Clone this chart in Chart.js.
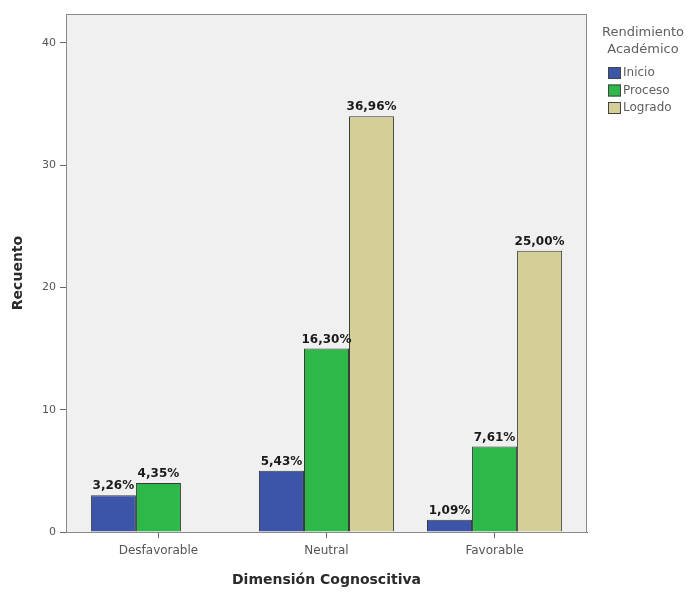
<!DOCTYPE html>
<html>
<head>
<meta charset="utf-8">
<script src="https://cdn.jsdelivr.net/npm/chart.js@4/dist/chart.umd.min.js"></script>
<style>
  html, body { margin: 0; padding: 0; background: #ffffff; }
  #wrap { position: relative; width: 692px; height: 592px; }
</style>
</head>
<body>
<div id="wrap"><canvas id="chart"></canvas></div>
<script>
// Dimensión Cognoscitiva x Rendimiento Académico (recuento)
const categories = ['Desfavorable', 'Neutral', 'Favorable'];
const seriesNames = ['Inicio', 'Proceso', 'Logrado'];
const inicio  = [3, 5, 1];
const proceso = [4, 15, 7];
const logrado = [0, 34, 23];
const yTicks  = [0, 10, 20, 30, 40];
const legendTitle = ['Rendimiento', 'Académico'];

const seriesValues = [inicio, proceso, logrado];
const seriesColors = ['#3c55a8', '#2fb84a', '#d4cf97'];
const total = seriesValues.flat().reduce((a, b) => a + b, 0);

const fontFamily = '"DejaVu Sans", "Liberation Sans", Arial, sans-serif';

// Light grey plotting panel with a thin frame
const panelPlugin = {
  id: 'panel',
  beforeDraw(chart) {
    const { ctx, chartArea: a } = chart;
    ctx.save();
    ctx.fillStyle = '#f0f0f0';
    ctx.fillRect(a.left, a.top, a.right - a.left, a.bottom - a.top);
    ctx.restore();
  },
  afterDraw(chart) {
    const { ctx, chartArea: a } = chart;
    ctx.save();
    ctx.strokeStyle = '#8a8a8a';
    ctx.lineWidth = 1;
    ctx.strokeRect(Math.round(a.left) + 0.5, Math.round(a.top) + 0.5,
                   Math.round(a.right - a.left) - 1, Math.round(a.bottom - a.top));
    ctx.restore();
  }
};

// Percentage of the total written above each bar
const percentPlugin = {
  id: 'percentLabels',
  afterDatasetsDraw(chart) {
    const { ctx } = chart;
    ctx.save();
    ctx.font = 'bold 12px ' + fontFamily;
    ctx.fillStyle = '#1a1a1a';
    ctx.textAlign = 'center';
    ctx.textBaseline = 'bottom';
    chart.data.datasets.forEach((ds, di) => {
      const meta = chart.getDatasetMeta(di);
      meta.data.forEach((bar, i) => {
        const v = ds.data[i].y;
        if (!v) return;
        const txt = (v / total * 100).toFixed(2).replace('.', ',') + '%';
        ctx.fillText(txt, bar.x, bar.y - 3);
      });
    });
    ctx.restore();
  }
};

// Legend block to the right of the panel
const sideLegendPlugin = {
  id: 'sideLegend',
  afterDraw(chart) {
    const { ctx, chartArea: a } = chart;
    const cx = a.right + 56;
    ctx.save();
    ctx.fillStyle = '#606060';
    ctx.font = '13px ' + fontFamily;
    ctx.textAlign = 'center';
    ctx.textBaseline = 'middle';
    legendTitle.forEach((line, k) => ctx.fillText(line, cx, a.top + 19 + k * 17));
    ctx.textAlign = 'left';
    ctx.font = '12px ' + fontFamily;
    chart.data.datasets.forEach((ds, k) => {
      const y = a.top + 59 + k * 17.5;
      const bx = a.right + 21;
      ctx.fillStyle = ds.backgroundColor;
      ctx.fillRect(bx, y - 6, 13, 12);
      ctx.strokeStyle = '#444';
      ctx.lineWidth = 1;
      ctx.strokeRect(bx + 0.5, y - 5.5, 12, 11);
      ctx.fillStyle = '#606060';
      ctx.fillText(ds.label, bx + 15, y);
    });
    ctx.restore();
  }
};

const datasets = seriesNames.map((name, k) => ({
  label: name,
  data: seriesValues[k].map((v, i) => ({ x: i + 1, y: v || null })),
  backgroundColor: seriesColors[k],
  borderColor: '#3a3a3a',
  borderWidth: 1,
  borderSkipped: 'start',
  categoryPercentage: 0.804,
  barPercentage: 1.0
}));

new Chart(document.getElementById('chart'), {
  type: 'bar',
  data: { datasets },
  plugins: [panelPlugin, percentPlugin, sideLegendPlugin],
  options: {
    responsive: true,
    maintainAspectRatio: false,
    animation: false,
    layout: { padding: { top: 14, right: 105, bottom: 0, left: 0 } },
    plugins: {
      legend: { display: false },
      tooltip: { enabled: false }
    },
    scales: {
      x: {
        type: 'linear',
        min: 0.45,
        max: 3.55,
        offset: false,
        afterBuildTicks(scale) {
          scale.ticks = categories.map((c, i) => ({ value: i + 1 }));
        },
        afterFit(scale) { scale.height = 60; },
        ticks: {
          callback: (v) => categories[v - 1] || '',
          color: '#555',
          font: { family: fontFamily, size: 12 },
          padding: 6,
          maxRotation: 0,
          autoSkip: false
        },
        grid: { display: true, offset: false, drawOnChartArea: false, drawTicks: true, tickLength: 6, color: '#666' },
        border: { display: true, color: '#555', width: 1 },
        title: {
          display: true,
          text: 'Dimensión Cognoscitiva',
          color: '#2a2a2a',
          font: { family: fontFamily, size: 14, weight: 'bold' },
          padding: { top: 0, bottom: 3 }
        }
      },
      y: {
        min: 0,
        max: 42.35,
        afterBuildTicks(scale) {
          scale.ticks = yTicks.map(v => ({ value: v }));
        },
        afterFit(scale) { scale.width = 66; },
        ticks: {
          color: '#555',
          font: { family: fontFamily, size: 11 },
          padding: 4
        },
        grid: { display: true, drawOnChartArea: false, drawTicks: true, tickLength: 6, color: '#666' },
        border: { display: true, color: '#666', width: 1 },
        title: {
          display: true,
          text: 'Recuento',
          color: '#2a2a2a',
          font: { family: fontFamily, size: 14, weight: 'bold' },
          padding: { top: 10, bottom: 0 }
        }
      }
    }
  }
});
</script>
</body>
</html>
